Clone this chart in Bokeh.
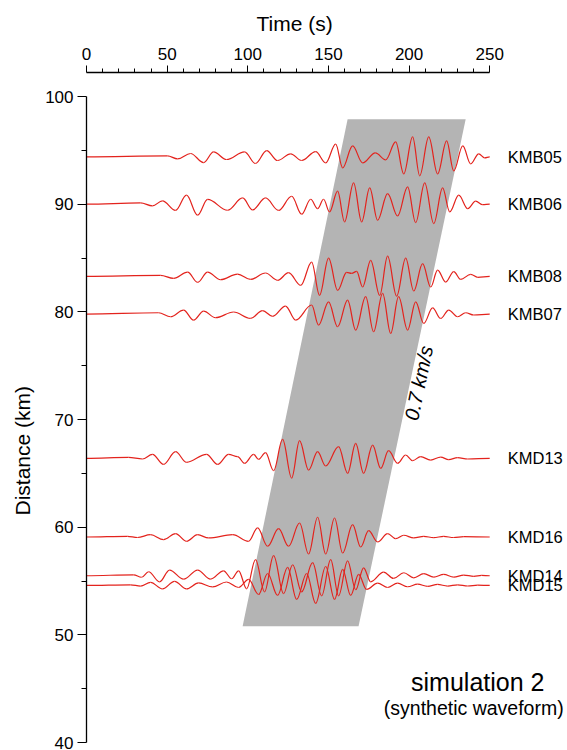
import numpy as np
from bokeh.plotting import figure
from bokeh.models import FixedTicker, Range1d, Title
from bokeh.core.properties import value
from bokeh.embed import file_html
from bokeh.resources import INLINE

# ---------------- data ----------------
stations = ["KMB05", "KMB06", "KMB08", "KMB07", "KMD13", "KMD16", "KMD14", "KMD15"]
distances = [94.4, 90.0, 83.3, 79.8, 66.4, 59.1, 55.5, 54.6]   # km

# waveform extrema: time (s) and amplitude (km, relative to station distance)
kmb05_t = [50.2, 56.5, 64.5, 72.6, 78.8, 86.8, 98.0, 104.8, 111.7, 118.5, 126.6, 133.4, 142.1, 148.3,
           154.5, 158.8, 165.0, 171.2, 179.1, 185.5, 191.7, 196.7, 202.2, 206.6, 212.2, 217.7, 223.3,
           227.7, 233.3, 238.2, 243.2, 246.9]
kmb05_a = [0.09, -0.19, 0.31, -0.53, 0.46, -0.25, 0.46, -0.62, 0.58, -0.34, 0.28, -0.34, 0.49, -0.56,
           1.18, -1.02, 1.02, -0.56, 0.37, -0.28, 1.39, -1.58, 1.86, -1.76, 1.86, -1.58, 1.49,
           -1.30, 1.02, -0.65, 0.28, -0.09]

kmb06_t = [33.5, 40.9, 47.1, 55.2, 62.0, 68.9, 75.1, 87.5, 96.8, 103.0, 111.0, 119.1, 127.2, 133.4,
           139.0, 143.3, 147.0, 150.7, 155.7, 160.0, 165.6, 170.6, 175.6, 180.5, 186.7, 192.9, 199.1,
           204.1, 209.7, 215.3, 220.8, 225.2, 230.8, 236.4, 241.3, 245.7]
kmb06_a = [0.12, -0.16, 0.31, -0.58, 0.84, -1.02, 0.44, -0.56, 0.58, -0.53, 0.58, -0.58, 0.74, -0.93,
           0.46, -0.41, 0.46, -0.71, 1.21, -1.64, 1.98, -1.64, 1.51, -1.49, 0.98, -1.09, 1.61,
           -1.71, 1.98, -1.80, 1.51, -0.71, 0.84, -0.41, 0.28, -0.04]

kmb08_t = [45.9, 54.0, 62.7, 68.9, 75.1, 83.1, 93.7, 101.7, 111.0, 118.5, 125.3, 132.8, 139.6, 144.5,
           150.1, 155.7, 161.3, 164.4, 167.5, 171.2, 176.2, 181.8, 186.7, 192.3, 197.9, 202.9, 208.4,
           213.4, 217.7, 222.7, 227.7, 232.0, 238.2, 242.6]
kmb08_a = [0.09, -0.19, 0.40, -0.56, 0.40, -0.31, 0.21, -0.28, 0.31, -0.37, 0.34, -0.84, 1.33, -1.76,
           1.70, -1.30, 0.37, 0.28, 0.46, -0.99, 1.49, -1.76, 1.88, -1.83, 1.70, -1.36, 1.18,
           -0.99, 0.58, -0.53, 0.44, -0.28, 0.19, -0.09]

kmb07_t = [44.7, 52.1, 60.2, 66.4, 72.6, 80.0, 91.2, 101.7, 109.2, 115.4, 123.4, 129.7, 139.6, 143.9,
           150.1, 155.7, 161.9, 166.9, 173.1, 178.0, 183.6, 188.6, 193.5, 199.1, 204.1, 209.1, 214.6,
           219.6, 224.6, 230.1, 235.1, 240.1]
kmb07_a = [0.12, -0.25, 0.37, -0.56, 0.28, -0.34, 0.19, -0.40, 0.31, -0.21, 0.74, -0.56, 0.84, -1.02,
           1.14, -1.18, 1.30, -1.49, 1.61, -1.64, 1.92, -1.80, 1.61, -1.49, 1.14, -0.87, 0.58,
           -0.41, 0.37, -0.25, 0.12, -0.09]

kmd13_t = [26.1, 34.7, 40.9, 47.8, 55.2, 62.0, 74.4, 81.3, 88.1, 93.7, 98.0, 103.6, 106.7, 111.0,
           116.0, 121.6, 127.2, 132.1, 137.7, 143.3, 148.3, 156.3, 161.9, 166.9, 171.8, 177.4, 182.4,
           187.3, 192.9, 197.9, 202.2, 207.2, 213.4, 219.6, 224.6, 230.1, 236.4]
kmd13_a = [0.09, -0.06, 0.37, -0.56, 0.62, -0.37, 0.37, -0.56, 0.37, 0.16, -0.46, 0.37, -0.09, 0.53,
           -1.14, 1.76, -1.83, 1.64, -1.09, 0.62, -0.71, 1.09, -1.39, 1.39, -1.39, 1.23, -0.93,
           0.71, -0.46, 0.31, -0.21, 0.16, -0.16, 0.12, -0.12, 0.06, -0.06]

kmd16_t = [25.4, 31.6, 39.7, 47.8, 55.2, 62.0, 68.9, 75.7, 90.6, 100.5, 106.1, 112.3, 119.1, 125.3,
           132.1, 137.7, 143.3, 148.3, 153.8, 158.8, 165.0, 170.0, 174.9, 180.5, 186.7, 191.7, 196.7,
           202.9, 209.1, 215.3, 221.5, 227.7, 233.9]
kmd16_a = [0.06, -0.05, 0.21, -0.25, 0.31, -0.40, 0.21, -0.09, 0.21, -0.40, 0.84, -0.86, 0.77, -0.86,
           1.30, -1.58, 1.83, -1.58, 1.76, -1.49, 1.15, -0.93, 0.59, -0.46, 0.31, -0.16, 0.16,
           -0.09, 0.06, -0.06, 0.05, -0.05, 0.03]

kmd14_t = [29.2, 34.1, 38.5, 45.3, 51.5, 60.2, 68.9, 76.9, 85.0, 90.0, 94.3, 99.3, 104.8, 110.4,
           116.0, 122.2, 127.8, 133.4, 140.2, 145.8, 151.4, 156.3, 161.9, 166.9, 171.8, 176.2, 184.2,
           190.4, 196.7, 202.9, 209.1, 215.3, 221.5, 227.7, 233.9, 240.1, 245.0]
kmd14_a = [0.09, -0.14, 0.37, -0.56, 0.53, -0.31, 0.53, -0.31, 0.46, -0.28, 0.46, -1.21, 1.49, -1.49,
           1.86, -1.67, 1.02, -1.49, 1.21, -1.86, 1.49, -1.86, 1.39, -1.30, 0.74, -0.56, 0.34,
           -0.25, 0.28, -0.19, 0.19, -0.12, 0.12, -0.12, 0.06, -0.05, 0.03]

kmd15_t = [27.3, 33.5, 39.7, 47.1, 54.6, 62.0, 69.5, 78.2, 86.8, 94.3, 100.5, 106.7, 112.3, 118.5,
           124.7, 130.3, 136.5, 142.1, 148.3, 153.8, 158.8, 163.8, 168.7, 173.7, 180.5, 186.7, 192.9,
           199.1, 205.3, 211.5, 217.7, 223.9, 230.1, 236.4, 242.6]
kmd15_a = [0.06, -0.06, 0.28, -0.32, 0.37, -0.32, 0.23, -0.14, 0.32, -0.19, 0.56, -0.84, 1.11, -0.93,
           1.67, -1.30, 1.11, -1.67, 1.76, -1.30, 1.49, -0.93, 1.02, -0.37, 0.21, -0.19, 0.21,
           -0.12, 0.12, -0.09, 0.09, -0.06, 0.06, -0.05, 0.03]

wave_times = [kmb05_t, kmb06_t, kmb08_t, kmb07_t, kmd13_t, kmd16_t, kmd14_t, kmd15_t]
wave_amps = [kmb05_a, kmb06_a, kmb08_a, kmb07_a, kmd13_a, kmd16_a, kmd14_a, kmd15_a]
record_start, record_end = 0.0, 250.0

# 0.7 km/s arrival window (time s, distance km)
band_t = [96.8, 168.7, 235.1, 161.9]
band_d = [50.8, 50.8, 97.9, 97.9]

x_ticks = [0, 50, 100, 150, 200, 250]
x_minor = [10, 20, 30, 40, 60, 70, 80, 90, 110, 120, 130, 140, 160, 170, 180, 190, 210, 220, 230, 240]
y_ticks = [40, 50, 60, 70, 80, 90, 100]
y_minor = [45, 55, 65, 75, 85, 95]

x_title, y_title = "Time (s)", "Distance (km)"

label_time = 261.2
velocity_text = "0.7 km/s"
velocity_pos = (206.0, 73.4)
title_lines = ["simulation 2", "(synthetic waveform)"]
title_pos = [(242.6, 45.6), (240.1, 43.2)]

# ---------------- figure ----------------
FONT = "Liberation Sans"
RED = "#e3231d"

p = figure(width=567, height=750, x_range=Range1d(0, 297), y_range=Range1d(39.83, 102.23),
           x_axis_location="above", output_backend="svg", toolbar_location=None,
           min_border_left=86, min_border_right=2, min_border_top=72, min_border_bottom=6)
p.outline_line_color = None
p.grid.visible = False
p.background_fill_color = "white"
p.border_fill_color = "white"

p.patch(band_t, band_d, fill_color="#b4b4b4", line_color=None)

K = 0.3642
for D, tt, aa in zip(distances, wave_times, wave_amps):
    pt = np.array([record_start] + tt + [record_end])
    pa = D + np.array([0.0] + aa + [0.0])
    x0, x1 = pt[:-1], pt[1:]
    y0, y1 = pa[:-1], pa[1:]
    dx = x1 - x0
    p.bezier(x0=x0, y0=y0, x1=x1, y1=y1, cx0=x0 + K * dx, cy0=y0, cx1=x1 - K * dx, cy1=y1,
             line_color=RED, line_width=1.2)

p.text(x=[label_time] * len(stations), y=distances, text=stations,
       text_font=value(FONT), text_font_size=value("16.5px"), text_color="black",
       text_align="left", text_baseline="middle")

p.text(x=[velocity_pos[0]], y=[velocity_pos[1]], text=[velocity_text], angle=78.3, angle_units="deg",
       text_font=value(FONT), text_font_size=value("20px"), text_font_style="italic",
       text_color="black", text_align="center", text_baseline="middle")

p.text(x=[title_pos[0][0]], y=[title_pos[0][1]], text=[title_lines[0]],
       text_font=value(FONT), text_font_size=value("25px"), text_color="black",
       text_align="center", text_baseline="middle")
p.text(x=[title_pos[1][0]], y=[title_pos[1][1]], text=[title_lines[1]],
       text_font=value(FONT), text_font_size=value("19.5px"), text_color="black",
       text_align="center", text_baseline="middle")

xa = p.xaxis[0]
xa.ticker = FixedTicker(ticks=x_ticks, minor_ticks=x_minor)
xa.bounds = (0, 250)
ya = p.yaxis[0]
ya.ticker = FixedTicker(ticks=y_ticks, minor_ticks=y_minor)
ya.bounds = (40, 100)

for ax in (xa, ya):
    ax.major_label_text_font = FONT
    ax.major_label_text_font_size = "17px"
    ax.major_label_text_color = "black"
    ax.axis_line_color = "black"
    ax.axis_line_width = 1.3
    ax.major_tick_line_color = "black"
    ax.minor_tick_line_color = "black"
    ax.major_tick_in = 0
    ax.minor_tick_in = 0

xa.major_tick_out = 7
xa.minor_tick_out = 4
xa.major_label_standoff = 6
ya.major_tick_out = 9
ya.minor_tick_out = 5
ya.major_label_standoff = 4

# axis titles as layout titles so they can be shifted along the axis
p.add_layout(Title(text=x_title, align="left", offset=170, standoff=19,
                   text_font=FONT, text_font_size="21px", text_font_style="normal",
                   text_color="black"), "above")
p.add_layout(Title(text=y_title, align="left", offset=229, standoff=17,
                   text_font=FONT, text_font_size="21px", text_font_style="normal",
                   text_color="black"), "left")

open("out.html", "w").write(file_html(p, INLINE))
